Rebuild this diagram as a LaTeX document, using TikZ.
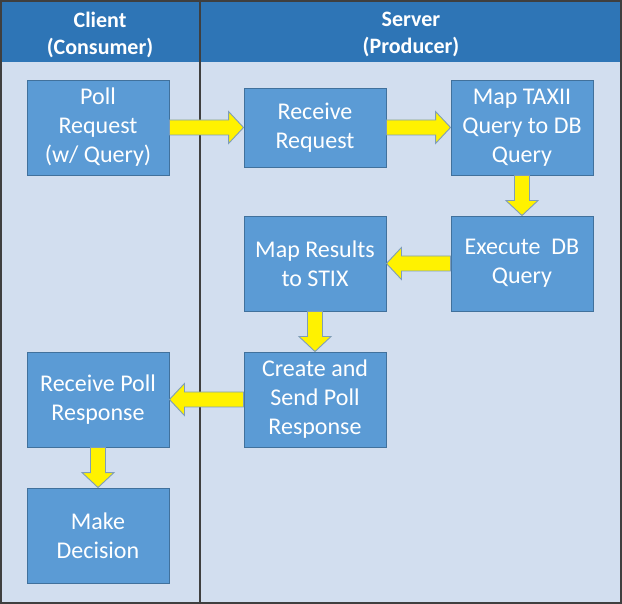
\documentclass[tikz,border=0pt]{standalone}
\usepackage{fontspec}
\setmainfont{Carlito}
\usetikzlibrary{calc}
\definecolor{lanebg}{HTML}{D2DEEF}
\definecolor{headbg}{HTML}{2E75B6}
\definecolor{boxfill}{HTML}{5B9BD5}
\definecolor{boxline}{HTML}{41719C}
\definecolor{arrline}{HTML}{7F9DB9}
\definecolor{frame}{HTML}{3F3F3F}
\tikzset{
  stepbox/.style={draw=boxline, line width=0.9pt, fill=boxfill, text=white,
    minimum width=142pt, minimum height=95pt, inner sep=2pt, align=center,
    font=\fontsize{24}{29}\selectfont, execute at begin node={\vspace*{5pt}}},
  headtext/.style={text=white, align=center, font=\bfseries\fontsize{22}{27}\selectfont},
  blockarrow/.style={fill=yellow, draw=arrline, line width=0.9pt, line join=miter}
}
% horizontal block arrow from #1 to #2; #3 is - (pointing right) or + (pointing left)
\newcommand{\harrow}[3]{%
  \draw[blockarrow] let \p1=(#1), \p2=(#2) in
    (\x1,\y1-7.5pt) -- ({\x2#3 15pt},\y1-7.5pt) -- ({\x2#3 15pt},\y1-16pt) -- (\x2,\y1)
    -- ({\x2#3 15pt},\y1+16pt) -- ({\x2#3 15pt},\y1+7.5pt) -- (\x1,\y1+7.5pt) -- cycle;}
\newcommand{\varrow}[2]{%
  \draw[blockarrow] let \p1=(#1), \p2=(#2) in
    (\x1-7.5pt,\y1) -- (\x1-7.5pt,\y2+15pt) -- (\x1-16pt,\y2+15pt) -- (\x1,\y2)
    -- (\x1+16pt,\y2+15pt) -- (\x1+7.5pt,\y2+15pt) -- (\x1+7.5pt,\y1) -- cycle;}
\begin{document}
\begin{tikzpicture}[x=1pt,y=-1pt]
\useasboundingbox (0,0) rectangle (622,604);
% lanes
\fill[lanebg] (0,0) rectangle (622,604);
\fill[headbg] (0,0) rectangle (622,62);
\draw[frame, line width=2pt] (1,1) rectangle (621,603);
\draw[frame, line width=2pt] (200,0) -- (200,604);
\node[headtext] (hclient) at (100,34.5) {Client\\(Consumer)};
\node[headtext] (hserver) at (411,34.5) {Server\\(Producer)};
% boxes
\node[stepbox] (poll) at (98,127.5) {Poll\\Request\\(w/ Query)};
\node[stepbox, minimum height=79pt] (recv) at (315,127.5) {Receive\\Request};
\node[stepbox] (map) at (522,127.5) {Map TAXII\\Query to DB\\Query};
\node[stepbox] (exec) at (522,263.5) {Execute~ DB\\Query};
\node[stepbox] (mapres) at (315,263.5) {Map Results\\to STIX};
\node[stepbox] (create) at (315,399.5) {Create and\\Send Poll\\Response};
\node[stepbox] (rpoll) at (98,399.5) {Receive Poll\\Response};
\node[stepbox] (dec) at (98,535.5) {Make\\Decision};
% arrows
\harrow{poll.east}{recv.west}{-}
\harrow{recv.east}{map.west}{-}
\varrow{map.south}{exec.north}
\harrow{exec.west}{mapres.east}{+}
\varrow{mapres.south}{create.north}
\harrow{create.west}{rpoll.east}{+}
\varrow{rpoll.south}{dec.north}
\end{tikzpicture}
\end{document}
